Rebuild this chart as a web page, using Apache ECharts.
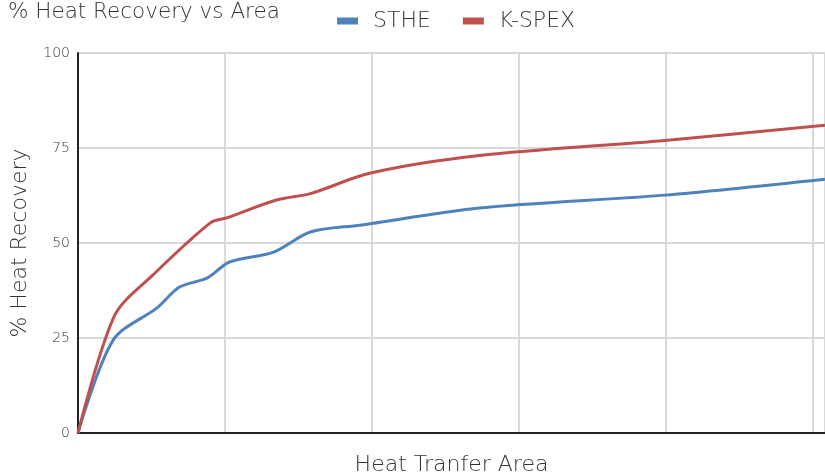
<!DOCTYPE html>
<html>
<head>
<meta charset="utf-8">
<script src="https://cdn.jsdelivr.net/npm/echarts@6/dist/echarts.min.js"></script>
<style>
  html, body { margin: 0; padding: 0; background: #fff; }
  #chart { width: 825px; height: 475px; }
</style>
</head>
<body>
<div id="chart"></div>
<script>
// x positions in gridline units, y in % heat recovery
const stheX = [0, 0.24, 0.54, 0.69, 0.88, 1.03, 1.33, 1.58, 1.92, 2.73, 3.99, 5.08];
const stheY = [0, 24.5, 33, 38.4, 40.8, 45, 47.6, 52.9, 54.7, 59.2, 62.6, 66.8];
const kspexX = [0, 0.25, 0.51, 0.90, 1.01, 1.35, 1.58, 1.99, 2.73, 3.99, 5.08];
const kspexY = [0, 31, 41.6, 55.3, 56.6, 61.3, 63, 68.4, 73, 77, 81];
const yTicks = [0, 25, 50, 75, 100];

const pairs = (xs, ys) => xs.map((x, i) => [x, ys[i]]);
const font = '"DejaVu Sans", sans-serif';
const weight = 200;

const myChart = echarts.init(document.getElementById('chart'));
const option = {
  animation: false,
  title: {
    text: '% Heat Recovery vs Area',
    left: 8, top: 1, padding: 0,
    textStyle: { fontFamily: font, fontSize: 21.5, fontWeight: weight, color: '#333' }
  },
  legend: {
    top: 10, left: 337, padding: 0,
    itemWidth: 21, itemHeight: 7, itemGap: 32,
    icon: 'rect',
    textStyle: { fontFamily: font, fontSize: 22, fontWeight: weight, color: '#333', padding: [0, 0, 0, 10] },
    data: ['STHE', 'K-SPEX']
  },
  grid: { left: 78, right: 0, top: 53, bottom: 42, containLabel: false, outerBoundsMode: 'none' },
  xAxis: {
    type: 'value', min: 0, max: 5.08, interval: 1,
    name: 'Heat Tranfer Area', nameLocation: 'middle', nameGap: 21,
    nameTextStyle: { fontFamily: font, fontSize: 22, fontWeight: weight, color: '#333' },
    axisLine: { show: true, lineStyle: { color: '#222', width: 2 } },
    axisTick: { show: false },
    axisLabel: { show: false },
    splitLine: { show: true, lineStyle: { color: '#d9d9d9', width: 2 } }
  },
  yAxis: {
    type: 'value', min: 0, max: 100, interval: 25,
    name: '% Heat Recovery', nameLocation: 'middle', nameGap: 47,
    nameTextStyle: { fontFamily: font, fontSize: 22, fontWeight: weight, color: '#333' },
    axisLine: { show: true, lineStyle: { color: '#222', width: 2 } },
    axisTick: { show: false },
    axisLabel: {
      fontFamily: font, fontSize: 14, fontWeight: weight, color: '#333', margin: 8,
      formatter: v => yTicks.includes(v) ? String(v) : ''
    },
    splitLine: { show: true, lineStyle: { color: '#d9d9d9', width: 2 } }
  },
  series: [
    {
      name: 'STHE', type: 'line', smooth: 0.3, symbol: 'none',
      itemStyle: { color: '#4f81bd' },
      lineStyle: { color: '#4f81bd', width: 3 },
      data: pairs(stheX, stheY)
    },
    {
      name: 'K-SPEX', type: 'line', smooth: 0.3, symbol: 'none',
      itemStyle: { color: '#c0504d' },
      lineStyle: { color: '#c0504d', width: 3 },
      data: pairs(kspexX, kspexY)
    }
  ]
};
option && myChart.setOption(option);
</script>
</body>
</html>
